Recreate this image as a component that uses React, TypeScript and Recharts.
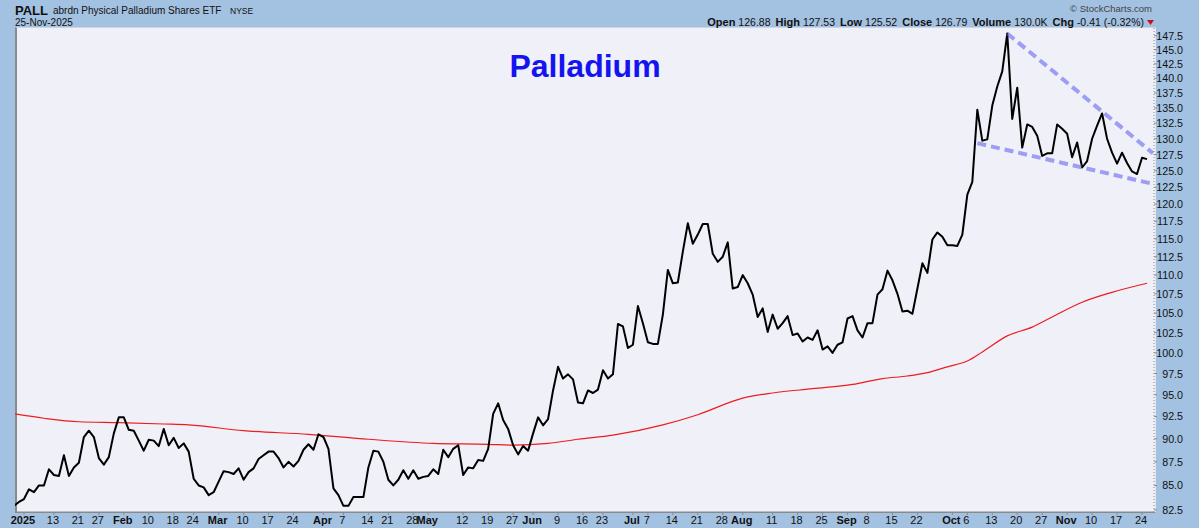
import React from 'react';
import { LineChart, Line, XAxis, YAxis } from 'recharts';

// Trading-day index: 0 = 31-Dec-2024, 1 = 2-Jan-2025 ... 226 = 25-Nov-2025 (first value is index -1)
const START_INDEX = -1;
const closes = [
  82.9, 83.3, 83.6, 84.6, 84.3, 85.0, 85.0, 86.7, 86.1, 86.0, 88.2,
  86.0, 86.9, 87.4, 90.2, 90.9, 90.2, 87.9, 87.2, 88.0, 90.6,
  92.4, 92.4, 91.0, 90.9, 89.8, 88.7, 89.9, 89.8, 89.2, 91.1,
  89.3, 90.1, 89.0, 89.5, 88.6, 85.7, 85.0, 84.8, 84.0, 84.3,
  85.4, 86.5, 86.4, 86.2, 86.8, 85.6, 86.4, 86.8, 87.8, 88.2,
  88.6, 88.6, 87.9, 86.9, 87.5, 87.0, 87.6, 88.8, 89.4, 88.8,
  90.5, 90.2, 88.9, 84.7, 84.0, 82.9, 82.9, 83.8, 83.8, 83.8,
  86.9, 88.7, 88.6, 87.5, 85.6, 85.0, 85.6, 86.6, 85.7, 86.6,
  85.7, 85.9, 86.0, 86.7, 86.2, 88.8, 88.0, 88.9, 89.3, 86.1,
  86.9, 86.8, 87.7, 87.6, 88.9, 92.8, 94.0, 92.1, 91.1, 89.3,
  88.3, 89.2, 88.7, 90.6, 92.4, 91.5, 92.2, 95.5, 98.3, 96.9,
  97.4, 96.8, 94.1, 94.0, 95.5, 95.2, 95.6, 97.9, 96.9, 97.4,
  103.6, 103.3, 100.6, 101.0, 105.9, 103.7, 101.3, 101.1, 101.1, 104.8,
  110.7, 108.9, 109.0, 113.2, 117.2, 114.3, 115.6, 117.1, 117.1, 112.9,
  111.8, 112.5, 114.5, 108.2, 108.4, 110.0, 108.9, 107.4, 104.5, 105.6,
  102.6, 104.8, 103.0, 103.7, 104.6, 102.2, 102.4, 101.4, 101.9, 101.6,
  102.8, 100.4, 100.8, 100.0, 101.0, 101.3, 104.3, 104.6, 102.8, 101.9,
  103.7, 103.7, 107.4, 108.1, 110.6, 109.3, 107.5, 105.2, 105.3, 104.9,
  108.2, 111.6, 110.3, 114.9, 115.9, 115.3, 114.1, 114.1, 114.0, 115.6,
  121.4, 123.3, 134.7, 129.7, 129.9, 135.4, 138.6, 141.2, 147.9, 133.2,
  138.4, 128.6, 132.3, 131.9, 130.5, 127.3, 127.7, 127.7, 132.3, 131.6,
  130.8, 127.1, 129.4, 125.5, 126.5, 130.0, 132.1, 134.1, 130.0, 127.8,
  126.1, 127.8, 126.2, 124.9, 124.5, 127.0, 126.8,
];

// 200-day moving average, read at sample dates (trading-day index)
const maIndex = [-1, 5, 12, 20, 29, 34, 45, 58, 70, 83, 94, 99, 106, 112, 119, 129, 136, 145, 151, 159, 167, 173, 178, 182, 186, 190, 193, 198, 203, 207, 213, 219, 226];
const maValues = [92.8, 92.3, 91.9, 91.8, 91.65, 91.55, 90.9, 90.5, 89.95, 89.5, 89.4, 89.3, 89.5, 89.95, 90.4, 91.55, 92.7, 94.6, 95.2, 95.7, 96.2, 96.9, 97.2, 97.6, 98.3, 99.0, 100.1, 102.1, 103.2, 104.5, 106.4, 107.7, 108.9];

// Falling-wedge trend lines
const upperTrendIndex = [198, 227.2];
const upperTrendValues = [147.9, 127.7];
const lowerTrendIndex = [192, 227.2];
const lowerTrendValues = [129.3, 123.0];

const tickIndex = [1, 7, 12, 16, 21, 26, 31, 35, 40, 45, 50, 55, 61, 65, 70, 74, 79, 82, 89, 94, 99, 103, 108, 113, 117, 123, 126, 131, 136, 141, 145, 151, 156, 161, 166, 170, 175, 180, 187, 190, 195, 200, 205, 210, 215, 220, 225];
const tickLabels = ['2025', '13', '21', '27', 'Feb', '10', '18', '24', 'Mar', '10', '17', '24', 'Apr', '7', '14', '21', '28', 'May', '12', '19', '27', 'Jun', '9', '16', '23', 'Jul', '7', '14', '21', '28', 'Aug', '11', '18', '25', 'Sep', '8', '15', '22', 'Oct', '6', '13', '20', '27', 'Nov', '10', '17', '24'];
const boldLabels = ['2025', 'Jan', 'Feb', 'Mar', 'Apr', 'May', 'Jun', 'Jul', 'Aug', 'Sep', 'Oct', 'Nov', 'Dec'];

const yTicks = [82.5, 85, 87.5, 90, 92.5, 95, 97.5, 100, 102.5, 105, 107.5, 110, 112.5, 115, 117.5, 120, 122.5, 125, 127.5, 130, 132.5, 135, 137.5, 140, 142.5, 145, 147.5];

const quote = [
  ['Open', '126.88'], ['High', '127.53'], ['Low', '125.52'], ['Close', '126.79'],
  ['Volume', '130.0K'], ['Chg', '-0.41 (-0.32%)'],
];

const priceData = closes.map((v, k) => ({ i: k + START_INDEX, v }));
const maData = maIndex.map((i, k) => ({ i, v: maValues[k] }));
const upperData = upperTrendIndex.map((i, k) => ({ i, v: upperTrendValues[k] }));
const lowerData = lowerTrendIndex.map((i, k) => ({ i, v: lowerTrendValues[k] }));
const labelByIndex: Record<number, string> = {};
tickIndex.forEach((t, k) => { labelByIndex[t] = tickLabels[k]; });

const FONT = '"Liberation Sans", Arial, sans-serif';

const XTick = (props: any) => {
  const { x, y, payload } = props;
  const label = labelByIndex[payload.value] ?? '';
  const bold = boldLabels.includes(label);
  return (
    <text x={x - 1} y={y + 9} textAnchor="middle" fontSize={11} fontFamily={FONT}
      fontWeight={bold ? 'bold' : 'normal'} fill="#111">{label}</text>
  );
};

const YTick = (props: any) => {
  const { x, y, payload } = props;
  return (
    <text x={x + 26} y={y + 4} textAnchor="end" fontSize={10.7} fontFamily={FONT} fill="#111">
      {Number(payload.value).toFixed(1)}
    </text>
  );
};

export default function App() {
  return (
    <div style={{ position: 'absolute', left: 0, top: 0, width: 1199, height: 528, background: '#a3c1e1', overflow: 'hidden', fontFamily: FONT }}>
      <div style={{ position: 'absolute', left: 15, top: 27, width: 1138, height: 484, background: '#eff0f8', borderLeft: '2px solid #8a8a8a', borderBottom: '1px solid #8a8a8a', borderTop: '1px solid #d0d4e0', borderRight: '1px solid #e4e6ef', boxSizing: 'content-box' }} />
      <div style={{ position: 'absolute', left: 0, top: 0 }}>
        <LineChart width={1199} height={528} margin={{ top: 28, right: 0, bottom: 0, left: 15 }}>
          <XAxis type="number" dataKey="i" domain={[-0.8, 227.4]} allowDataOverflow ticks={tickIndex}
            interval={0} tick={<XTick />} tickSize={3} tickMargin={0} height={16}
            axisLine={{ stroke: '#8a8a8a' }} tickLine={{ stroke: '#8a8a8a' }} />
          <YAxis type="number" dataKey="v" scale="log" domain={[82.28, 148.9]} allowDataOverflow
            orientation="right" ticks={yTicks} interval={0} tick={<YTick />} width={45}
            tickSize={3} tickMargin={0} axisLine={{ stroke: '#8a8a8a', strokeDasharray: '1 2' }}
            tickLine={{ stroke: '#8a8a8a' }} />
          <Line data={maData} dataKey="v" type="monotone" stroke="#ee1c1c" strokeWidth={1.2}
            dot={false} isAnimationActive={false} />
          <Line data={priceData} dataKey="v" type="linear" stroke="#000" strokeWidth={2}
            dot={false} isAnimationActive={false} strokeLinejoin="round" />
          <Line data={upperData} dataKey="v" type="linear" stroke="#5a5af0" strokeOpacity={0.55}
            strokeWidth={4} strokeDasharray="9 5" dot={false} isAnimationActive={false} />
          <Line data={lowerData} dataKey="v" type="linear" stroke="#5a5af0" strokeOpacity={0.55}
            strokeWidth={4} strokeDasharray="9 5" dot={false} isAnimationActive={false} />
        </LineChart>
      </div>
      <svg width={1199} height={528} style={{ position: 'absolute', left: 0, top: 0, pointerEvents: 'none' }}>
        <text x={15} y={15} fontFamily={FONT} fill="#111" fontSize={13} fontWeight="bold">PALL</text>
        <text x={53} y={14} fontFamily={FONT} fill="#111" fontSize={10}>abrdn Physical Palladium Shares ETF</text>
        <text x={230} y={14} fontFamily={FONT} fill="#111" fontSize={8.5}>NYSE</text>
        <text x={15} y={25.5} fontSize={10} fontFamily={FONT} fill="#111">25-Nov-2025</text>
        <text x={1152} y={11.5} fontSize={9.5} fontFamily={FONT} fill="#444" textAnchor="end">© StockCharts.com</text>
        <text x={1144} y={25.5} fontFamily={FONT} fill="#111" textAnchor="end" fontSize={11}>
          {quote.map(([k, v], n) => (
            <React.Fragment key={k}>
              <tspan fontWeight="bold" dx={n === 0 ? 0 : 5}>{k}</tspan>
              <tspan dx={3} fontSize={10.5}>{v}</tspan>
            </React.Fragment>
          ))}
        </text>
        <polygon points="1147,20 1154,20 1150.5,25" fill="#d01010" />
        <text x={585} y={77} fontSize={32} fontWeight="bold" fontFamily={FONT} fill="#1414f0" textAnchor="middle">Palladium</text>
      </svg>
    </div>
  );
}
